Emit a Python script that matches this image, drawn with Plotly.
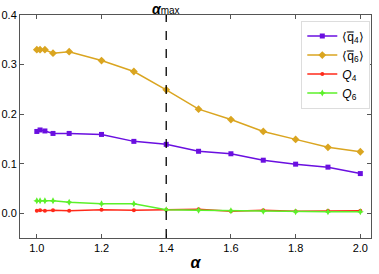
import plotly.graph_objects as go

alpha = [1.0, 1.01, 1.025, 1.05, 1.1, 1.2, 1.3, 1.4, 1.5, 1.6, 1.7, 1.8, 1.9, 2.0]
q4_bar = [0.165, 0.168, 0.166, 0.161, 0.161, 0.159, 0.145, 0.139, 0.125, 0.120, 0.107, 0.099, 0.093, 0.080]
q6_bar = [0.330, 0.330, 0.330, 0.323, 0.326, 0.308, 0.286, 0.249, 0.210, 0.189, 0.165, 0.149, 0.133, 0.124]
Q4 = [0.005, 0.006, 0.005, 0.006, 0.005, 0.007, 0.006, 0.007, 0.008, 0.004, 0.006, 0.004, 0.005, 0.005]
Q6 = [0.025, 0.025, 0.025, 0.025, 0.022, 0.019, 0.019, 0.007, 0.006, 0.005, 0.004, 0.003, 0.003, 0.003]
alpha_max = 1.4
x_ticks = [1.0, 1.2, 1.4, 1.6, 1.8, 2.0]
y_ticks = [0.0, 0.1, 0.2, 0.3, 0.4]

FONT = "Liberation Sans, Arial, sans-serif"
fig = go.Figure()
series = [
    ("⟨q̿<sub>4</sub>⟩", q4_bar, "#6a0fe0", "square", 5),
    ("⟨q̿<sub>6</sub>⟩", q6_bar, "#daa520", "diamond", 6),
    ("<i>Q</i><sub>4</sub>", Q4, "#ff2a1a", "circle", 4),
    ("<i>Q</i><sub>6</sub>", Q6, "#5cf02a", "star-diamond", 5),
]
for name, ys, col, sym, sz in series:
    fig.add_trace(go.Scatter(x=alpha, y=ys, name=name, mode="lines+markers",
                             line=dict(color=col, width=1.5),
                             marker=dict(symbol=sym, size=sz, color=col)))

fig.add_shape(type="line", x0=alpha_max, x1=alpha_max, y0=0, y1=1, yref="paper",
              line=dict(color="black", width=1.3, dash="dash"))
fig.add_annotation(x=alpha_max, y=1, yref="paper", yanchor="top", yshift=15, showarrow=False,
                   text="<b><i>α</i></b><span style='font-size:10px'>max</span>",
                   font=dict(size=14, color="black", family=FONT), borderpad=0)

axis_common = dict(showline=True, linecolor="#555", linewidth=1, mirror="ticks",
                   ticks="inside", ticklen=4, tickcolor="#555", showgrid=False,
                   zeroline=False, automargin=False,
                   tickfont=dict(size=11, color="black", family=FONT))
fig.update_xaxes(range=[0.948, 2.033], tickvals=x_ticks, ticktext=[f"{v:.1f}" for v in x_ticks],
                 title=dict(text="<b><i>α</i></b>", font=dict(size=16, family=FONT, color="black"),
                            standoff=3), **axis_common)
fig.update_yaxes(range=[-0.05, 0.4], tickvals=y_ticks, ticktext=[f"{v:.1f}" for v in y_ticks],
                 **axis_common)

fig.update_layout(
    width=379, height=274,
    margin=dict(l=20, r=8, t=15, b=36, autoexpand=False),
    paper_bgcolor="white", plot_bgcolor="white",
    font=dict(family=FONT, color="black"),
    legend=dict(x=0.998, y=0.975, xanchor="right", yanchor="top",
                bgcolor="white", bordercolor="#ddd", borderwidth=1,
                font=dict(size=12, family=FONT), tracegroupgap=2, itemwidth=30),
)
fig.write_html("out.html", config={"displayModeBar": False},
               post_script="document.body.style.margin='0';")
